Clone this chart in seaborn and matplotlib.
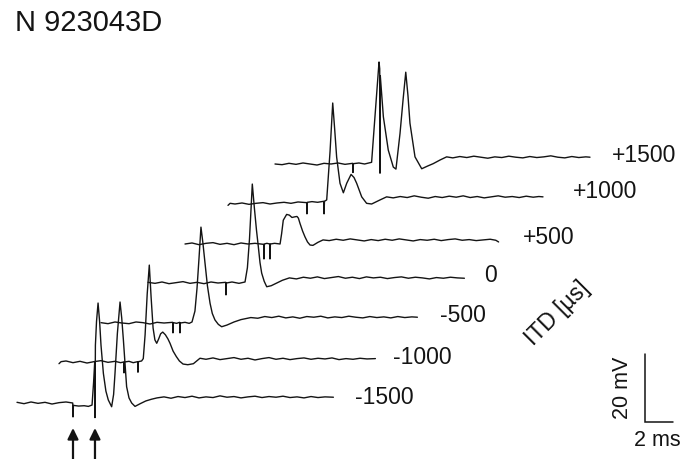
import numpy as np
import pandas as pd
import matplotlib
matplotlib.use("Agg")
import matplotlib.pyplot as plt
import seaborn as sns

# ---------------- data (time in ms from trace start, voltage in mV re. baseline) ----
itd_labels = ["-1500", "-1000", "-500", "0", "+500", "+1000", "+1500"]
title_text = "N 923043D"

t_m1500 = [0.0, 0.5, 1.0, 1.5, 2.0, 2.5, 3.0, 3.5, 3.98, 4.0, 4.03,
           4.4, 4.8, 5.1, 5.36, 5.47, 5.55, 5.57, 5.6, 5.68, 5.79, 5.9, 6.0, 6.17, 6.35, 6.52, 6.76,
           6.9, 7.0, 7.17, 7.36, 7.48, 7.6, 7.83, 8.0, 8.19, 8.43,
           8.8, 9.2, 9.6, 10.0, 10.5, 11.0, 11.5, 12.0, 12.5, 13.0, 13.5, 14.0, 14.5, 15.0,
           15.5, 16.0, 16.5, 17.0, 17.5, 18.0, 18.5, 19.0, 19.5, 20.0, 20.5, 21.0, 21.5, 22.0, 22.6]
v_m1500 = [0.2, -0.2, 0.3, -0.1, 0.2, -0.3, 0.1, 0.3, 0.0, -4.1, -0.7,
           -0.9, -0.8, -1.0, -0.6, 6.0, 12.0, -4.3, 17.0, 24.0, 29.4, 24.0, 17.0, 8.7, 3.5, 0.9, -1.1,
           2.5, 8.7, 20.5, 29.7, 25.0, 18.5, 4.8, 1.5, 0.0, -1.0,
           -0.2, 0.6, 1.1, 1.5, 1.8, 1.4, 1.9, 1.6, 2.0, 1.5, 1.8, 1.6, 2.1, 1.7,
           1.9, 1.5, 1.8, 2.0, 1.6, 1.9, 1.7, 2.0, 1.6, 1.8, 1.5, 1.9, 1.6, 1.8, 1.7]

t_m1000 = [0.0, 0.15, 0.5, 1.0, 1.5, 2.0, 2.5, 3.0, 3.5, 4.0, 4.4, 4.62, 4.64, 4.67,
           5.0, 5.3, 5.62, 5.64, 5.67, 5.9, 6.02,
           6.15, 6.3, 6.45, 6.58, 6.72, 6.85, 6.98, 7.12, 7.26, 7.41, 7.6, 7.78, 7.93,
           8.15, 8.38, 8.6, 8.86, 9.2, 9.6, 10.07, 10.5, 11.0, 11.5, 12.0, 12.5, 13.0,
           13.5, 14.0, 14.5, 15.0, 15.5, 16.0, 16.5, 17.0, 17.5, 18.0, 18.5, 19.0, 19.5,
           20.0, 20.5, 21.0, 21.5, 22.0, 22.6]
v_m1000 = [-0.5, 0.1, 0.3, -0.2, 0.2, -0.3, 0.1, 0.4, -0.1, 0.2, -0.2, 0.0, -3.2, 0.0,
           0.2, -0.2, 0.1, -3.0, 0.1, 0.3, 1.0,
           8.0, 20.0, 28.5, 19.0, 10.0, 6.5, 5.5, 6.8, 8.3, 8.8, 8.0, 6.8, 5.5,
           3.2, 1.6, 0.3, -0.6, -0.8, -0.5, 1.1, 0.8, 1.2, 0.7, 1.0, 1.3, 0.8,
           1.1, 0.6, 1.0, 1.3, 0.8, 1.1, 0.7, 1.0, 1.2, 0.8, 1.1, 0.9, 1.2,
           0.7, 1.0, 0.8, 1.1, 0.9, 1.0]

t_m500 = [0.0, 0.5, 1.0, 1.5, 2.0, 2.5, 3.0, 3.5, 4.0, 4.5, 5.12, 5.14, 5.17,
          5.4, 5.62, 5.64, 5.67, 6.0, 6.3, 6.5,
          6.71, 6.86, 7.0, 7.14, 7.28, 7.43, 7.6, 7.79, 7.95, 8.14, 8.38, 8.62,
          9.0, 9.5, 10.0, 10.7, 11.2, 11.7, 12.2, 12.7, 13.2, 13.7, 14.2, 14.7, 15.2,
          15.7, 16.2, 16.7, 17.2, 17.7, 18.2, 18.7, 19.2, 19.7, 20.2, 20.7, 21.2, 21.7,
          22.2, 22.6]
v_m500 = [0.1, -0.2, 0.3, 0.0, -0.2, 0.3, 0.1, -0.3, 0.2, 0.0, 0.2, -2.9, 0.1,
          -0.1, 0.2, -2.9, 0.0, 0.2, -0.1, 0.3,
          3.5, 10.3, 19.0, 28.2, 23.5, 17.6, 11.0, 5.8, 2.8, 0.9, -0.4, -1.1,
          -0.6, 0.3, 1.0, 1.6, 1.4, 1.9, 1.6, 2.0, 1.5, 1.8, 1.4, 1.9, 1.7,
          2.0, 1.5, 1.8, 1.6, 2.0, 1.7, 1.5, 1.9, 1.6, 1.8, 1.5, 1.9, 1.6,
          1.8, 1.7]

t_0 = [0.0, 0.5, 1.0, 1.5, 2.0, 2.5, 3.0, 3.5, 4.0, 4.5, 5.0, 5.55, 5.57, 5.6,
       6.0, 6.5, 6.93, 7.1, 7.25, 7.35, 7.45, 7.6, 7.75, 7.88, 8.0, 8.12, 8.3, 8.48,
       8.8, 9.2, 9.6, 10.1, 10.6, 11.1, 11.6, 12.1, 12.6, 13.1, 13.6, 14.1, 14.6,
       15.1, 15.6, 16.1, 16.6, 17.1, 17.6, 18.1, 18.6, 19.1, 19.6, 20.1, 20.6, 21.1,
       21.6, 22.1, 22.6]
v_0 = [0.2, -0.1, 0.3, -0.2, 0.1, 0.4, -0.1, 0.2, -0.2, 0.3, 0.0, 0.2, -3.5, 0.0,
       0.3, -0.1, 0.3, 4.5, 13.0, 21.0, 29.1, 22.0, 15.5, 10.7, 6.0, 2.9, 0.5, -1.1,
       -0.8, 0.0, 0.8, 1.5, 1.2, 1.7, 1.4, 1.8, 1.3, 1.6, 1.9, 1.4, 1.7,
       1.3, 1.8, 1.5, 1.7, 1.3, 1.6, 1.8, 1.4, 1.7, 1.5, 1.2, 1.6, 1.4,
       1.7, 1.5, 1.4]

t_p500 = [0.0, 0.5, 1.0, 1.5, 2.0, 2.5, 3.0, 3.5, 4.0, 4.5, 5.0, 5.62, 5.64, 5.67,
          5.85, 6.05, 6.07, 6.1, 6.4, 6.79,
          6.9, 7.02, 7.26, 7.45, 7.64, 7.85, 8.0, 8.1, 8.21, 8.4, 8.57, 8.75, 8.93, 9.14,
          9.5, 9.86, 10.3, 10.8, 11.3, 11.8, 12.3, 12.8, 13.3, 13.8, 14.3, 14.8, 15.3,
          15.8, 16.3, 16.8, 17.3, 17.8, 18.3, 18.8, 19.3, 19.8, 20.3, 20.8, 21.3, 21.8,
          22.2, 22.4]
v_p500 = [0.0, 0.3, -0.2, 0.2, 0.4, -0.1, 0.2, -0.2, 0.3, 0.0, 0.2, -0.1, -4.4, 0.0,
          0.2, 0.0, -4.4, 0.0, 0.2, 0.0,
          3.0, 7.0, 8.7, 8.5, 7.8, 8.0, 8.1, 7.6, 6.1, 3.8, 2.1, 0.6, -0.3, -0.4,
          0.5, 1.2, 1.0, 1.4, 1.1, 1.5, 1.2, 0.9, 1.3, 1.0, 1.4, 1.1, 1.5,
          1.2, 0.9, 1.3, 1.1, 1.4, 1.0, 1.3, 1.5, 1.1, 1.3, 1.0, 1.2, 1.4,
          1.1, 0.6]

t_p1000 = [0.0, 0.15, 0.5, 1.0, 1.5, 2.0, 2.5, 3.0, 3.5, 4.0, 4.5, 5.0, 5.62, 5.64, 5.67,
           6.0, 6.4, 6.84, 6.86, 6.89,
           7.05, 7.29, 7.48, 7.62, 7.76, 8.0, 8.24, 8.48, 8.79, 9.0, 9.19, 9.55, 9.9, 10.26,
           10.86, 11.33, 11.8, 12.3, 12.8, 13.3, 13.8, 14.3, 14.8, 15.3, 15.8, 16.3, 16.8,
           17.3, 17.8, 18.3, 18.8, 19.3, 19.8, 20.3, 20.8, 21.3, 21.8, 22.2, 22.5]
v_p1000 = [-0.4, 0.2, 0.0, 0.3, -0.1, 0.2, 0.4, 0.0, 0.3, 0.5, 0.2, 0.6, 0.4, -2.9, 0.5,
           0.7, 0.5, 0.8, -2.9, 0.8,
           1.2, 15.5, 29.7, 22.0, 13.8, 6.1, 3.3, 6.1, 8.7, 7.8, 6.1, 2.1, 0.2, 0.0,
           1.2, 2.1, 1.8, 2.2, 1.9, 2.4, 2.0, 1.7, 2.2, 1.9, 2.3, 2.0, 2.4,
           1.9, 2.2, 1.8, 2.1, 2.4, 2.0, 2.2, 1.9, 2.3, 2.0, 2.2, 2.1]

t_p1500 = [0.0, 0.5, 1.0, 1.5, 2.0, 2.5, 3.0, 3.5, 4.0, 4.5, 5.0, 5.55, 5.57, 5.6,
           6.0, 6.4, 6.9, 7.14, 7.43, 7.48, 7.5, 7.52,
           7.74, 8.09, 8.45, 8.64, 8.93, 9.15, 9.34, 9.5, 9.64, 10.0, 10.48, 10.9, 11.3,
           11.8, 12.26, 12.7, 13.2, 13.7, 14.2, 14.7, 15.2, 15.7, 16.2, 16.7, 17.2, 17.7,
           18.2, 18.7, 19.2, 19.7, 20.2, 20.7, 21.2, 21.7, 22.2, 22.5]
v_p1500 = [0.0, -0.2, 0.2, -0.1, 0.3, 0.0, -0.3, 0.2, 0.0, 0.3, -0.1, 0.2, -2.5, 0.1,
           0.3, 0.0, 0.5, 13.9, 30.0, 28.0, -2.7, 26.0,
           13.9, 4.1, -0.9, -1.5, 9.0, 19.0, 27.0, 20.0, 12.0, 2.1, -1.4, -0.6, 0.1,
           1.2, 2.1, 1.8, 2.2, 1.9, 2.3, 2.0, 1.7, 2.1, 1.9, 2.3, 2.0, 1.8,
           2.2, 1.9, 2.1, 2.4, 2.0, 1.8, 2.2, 1.9, 2.1, 2.0]

trace_t = [t_m1500, t_m1000, t_m500, t_0, t_p500, t_p1000, t_p1500]
trace_v = [v_m1500, v_m1000, v_m500, v_0, v_p500, v_p1000, v_p1500]

# stimulus times (ms re. trace start) marked by arrows under the -1500 trace
arrow_times = [4.0, 5.57]

# ---------------- layout (ms / mV coordinates; 14 px per ms, 3.4 px per mV) --------
W, H = 700, 459
PX_PER_MS, PX_PER_MV = 14.0, 3.4


def px_x(p):
    return p / PX_PER_MS


def px_y(p):
    return (H - p) / PX_PER_MV


trace_x0 = [px_x(p) for p in [17, 59, 101, 148, 185, 228, 275]]
trace_y0 = [px_y(p) for p in [403, 362, 323, 283, 244, 204, 164]]
label_pos = [(355, 397), (393, 358), (440, 316), (484, 275), (523, 238), (573, 192), (612, 155)]

frames = []
for i, lab in enumerate(itd_labels):
    frames.append(pd.DataFrame({
        "x": np.asarray(trace_t[i]) + trace_x0[i],
        "y": np.asarray(trace_v[i]) + trace_y0[i],
        "itd": lab,
    }))
df = pd.concat(frames, ignore_index=True)

sns.set_style("white")
plt.rcParams["font.family"] = ["Liberation Sans", "DejaVu Sans"]

fig = plt.figure(figsize=(W / 100, H / 100), dpi=100)
ax = fig.add_axes([0, 0, 1, 1])
ax.set_xlim(0, W / PX_PER_MS)
ax.set_ylim(0, H / PX_PER_MV)
ax.axis("off")

ink = "#141414"
sns.lineplot(data=df, x="x", y="y", units="itd", estimator=None, sort=False,
             color=ink, linewidth=1.0, ax=ax, legend=False)

for lab, (lx, ly) in zip(itd_labels, label_pos):
    ax.text(px_x(lx), px_y(ly), lab, ha="left", va="center", fontsize=16.5, color=ink)

ax.text(px_x(15), px_y(22.5), title_text, ha="left", va="center", fontsize=21, color=ink)
ax.text(px_x(557), px_y(313), "ITD [µs]", ha="center", va="center", rotation=45,
        fontsize=16.5, color=ink, rotation_mode="anchor")

# arrows
for at in arrow_times:
    xa = trace_x0[0] + at
    ax.annotate("", xy=(xa, px_y(428)), xytext=(xa, px_y(459)),
                arrowprops=dict(arrowstyle="-|>,head_length=0.65,head_width=0.32",
                                lw=1.6, color=ink, shrinkA=0, shrinkB=0,
                                mutation_scale=10))

# scale bar: 2 ms, 20 mV
sx, sy = px_x(644.5), px_y(421.7)
ax.plot([sx, sx, sx + 2.0], [sy + 20.0, sy, sy], color=ink, lw=1.1,
        solid_joinstyle="miter")
ax.text(px_x(623), sy + 10.0, "20 mV", rotation=90, ha="center", va="center",
        fontsize=15.5, color=ink)
ax.text(px_x(657), px_y(440), "2 ms", ha="center", va="center", fontsize=15.5, color=ink)

fig.savefig("out.png", dpi=100)
